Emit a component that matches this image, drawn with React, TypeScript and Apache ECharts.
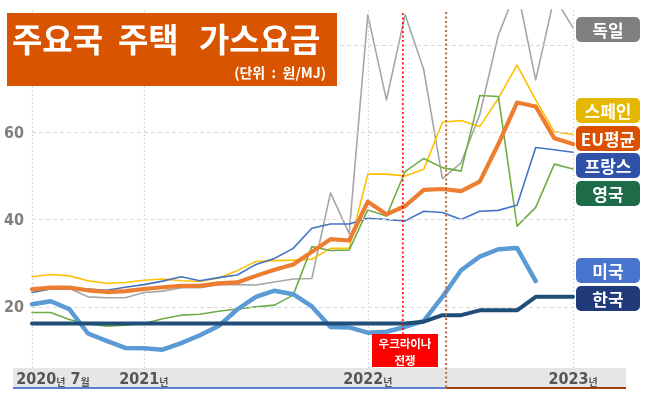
import React, { useEffect, useRef } from 'react';
import * as echarts from 'echarts';

// Monthly categories: 2020.07 .. 2022.12 (index 0..29)
const months: string[] = [
  '2020.07', '2020.08', '2020.09', '2020.10', '2020.11', '2020.12',
  '2021.01', '2021.02', '2021.03', '2021.04', '2021.05', '2021.06',
  '2021.07', '2021.08', '2021.09', '2021.10', '2021.11', '2021.12',
  '2022.01', '2022.02', '2022.03', '2022.04', '2022.05', '2022.06',
  '2022.07', '2022.08', '2022.09', '2022.10', '2022.11', '2022.12',
];
const xTickIdx = [0, 6, 18, 29];
const xTickYear = ['2020', '2021', '2022', '2023'];
const yGridTicks = [20, 40, 60, 80];
const yLabelTicks = [20, 40, 60];

const germany = [23.8, 24.2, 24.2, 22.3, 22.1, 22.1, 23.3, 23.6, 24.4, 24.4, 25.1, 25.1, 25.0, 25.7, 26.4, 26.5, 46.1, 36.8, 86.9, 67.4, 86.9, 74.3, 49.4, 53.0, 64.0, 82.3, 93.0, 72.0, 91.0, 83.9];
const spain = [26.9, 27.4, 27.1, 26.0, 25.4, 25.6, 26.1, 26.4, 26.0, 25.8, 26.6, 28.3, 30.4, 30.6, 30.7, 30.9, 33.4, 33.4, 50.4, 50.4, 50.0, 51.5, 62.3, 62.7, 61.3, 67.8, 75.4, 67.4, 60.1, 59.5];
const euAvg = [24.0, 24.4, 24.4, 23.8, 23.4, 23.6, 24.1, 24.5, 24.8, 24.8, 25.4, 25.6, 27.1, 28.5, 29.7, 32.6, 35.5, 35.2, 44.1, 41.2, 43.1, 46.8, 47.0, 46.5, 48.7, 57.3, 66.8, 65.9, 58.6, 57.3];
const france = [23.3, 24.1, 24.1, 24.1, 23.8, 24.5, 25.1, 25.9, 26.9, 26.0, 26.7, 27.3, 29.7, 31.1, 33.4, 38.0, 39.0, 39.0, 40.3, 40.0, 39.7, 41.9, 41.6, 40.0, 41.9, 42.1, 43.3, 56.5, 56.0, 55.4];
const uk = [18.7, 18.7, 17.1, 16.1, 15.6, 15.8, 16.2, 17.3, 18.1, 18.3, 19.0, 19.5, 20.0, 20.4, 22.7, 33.8, 32.9, 33.0, 42.2, 40.8, 51.0, 54.0, 51.9, 51.1, 68.4, 68.2, 38.5, 42.8, 52.7, 51.6];
const usa = [20.6, 21.3, 19.5, 13.9, 12.2, 10.6, 10.5, 10.2, 11.7, 13.5, 15.6, 19.4, 22.3, 23.7, 22.9, 20.1, 15.4, 15.3, 14.1, 14.3, 15.4, 16.8, 22.3, 28.4, 31.5, 33.2, 33.5, 25.9];
const korea = [16.2, 16.2, 16.2, 16.2, 16.2, 16.2, 16.2, 16.2, 16.2, 16.2, 16.2, 16.2, 16.2, 16.2, 16.2, 16.2, 16.2, 16.2, 16.2, 16.2, 16.2, 16.6, 18.1, 18.1, 19.2, 19.2, 19.2, 22.3, 22.3, 22.3];

// Event markers (fractional month index)
const warIdx = 19.88;
const splitIdx = 22.2;

const legendItems = [
  { name: '독일', color: '#7f7f7f', y: 17 },
  { name: '스페인', color: '#e5b700', y: 98 },
  { name: 'EU평균', color: '#d95000', y: 126 },
  { name: '프랑스', color: '#2f52a8', y: 153 },
  { name: '영국', color: '#1e6b4a', y: 181 },
  { name: '미국', color: '#4a75cf', y: 258 },
  { name: '한국', color: '#203a7a', y: 286 },
];

const CJK = "'Noto Sans CJK KR', sans-serif";
const COND = "'Liberation Sans Narrow', 'DejaVu Sans Condensed', 'Noto Sans CJK KR', sans-serif";

const Y_MIN = 6;
const Y_MAX = 88;

function pairs(arr: number[]) {
  return arr.map((v, i) => [i, v]);
}

export default function App() {
  const ref = useRef<HTMLDivElement>(null);
  useEffect(() => {
    const chart = echarts.init(ref.current!, null, { renderer: 'svg' });

    const gridMark = {
      silent: true,
      symbol: ['none', 'none'],
      label: { show: false },
      data: [
        ...yGridTicks.map((v) => [
          { coord: [0, v], lineStyle: { color: '#d9d9d9', type: [4, 3], width: 1 } },
          { coord: [months.length - 1, v] },
        ]),
        ...xTickIdx.map((i) => [
          { coord: [i, Y_MIN], lineStyle: { color: '#d0d0d0', type: [1.5, 2.5], width: 1.2 } },
          { coord: [i, Y_MAX] },
        ]),
      ],
    };

    const mk = (name: string, data: number[], color: string, width: number, z: number) => ({
      name,
      type: 'line',
      data: pairs(data),
      symbol: 'none',
      z,
      lineStyle: { color, width, join: 'round', cap: 'round' },
      itemStyle: { color },
    });

    chart.setOption({
      animation: false,
      grid: { left: 32, right: 88, top: 10, bottom: 30, containLabel: false, outerBoundsMode: 'none' },
      xAxis: {
        type: 'value',
        min: 0,
        max: months.length - 1,
        axisLine: { show: false },
        axisTick: { show: false },
        splitLine: { show: false },
        axisLabel: {
          customValues: xTickIdx,
          showMinLabel: true,
          showMaxLabel: true,
          hideOverlap: false,
          margin: 1,
          formatter: (v: number) => {
            const k = xTickIdx.indexOf(Math.round(v));
            if (k < 0) return '';
            if (k === 0) return `{n0|${xTickYear[0]}}{s|년}{n| 7}{s|월}`;
            return `{n|${xTickYear[k]}}{s|년}`;
          },
          rich: {
            n0: { fontFamily: COND, fontSize: 16, fontWeight: 'bold', color: '#555555', lineHeight: 18, padding: [0, 0, 0, 42] },
            n: { fontFamily: COND, fontSize: 16, fontWeight: 'bold', color: '#555555', lineHeight: 18 },
            s: { fontFamily: CJK, fontSize: 10, fontWeight: 'bold', color: '#555555', lineHeight: 18, verticalAlign: 'bottom', padding: [0, 0, 1, 0] },
          },
        },
      },
      yAxis: {
        type: 'value',
        min: Y_MIN,
        max: Y_MAX,
        axisLine: { show: false },
        axisTick: { show: false },
        splitLine: { show: false },
        axisLabel: {
          customValues: yLabelTicks,
          margin: 8,
          color: '#7f7f7f',
          fontSize: 16,
          fontWeight: 'bold',
          fontFamily: COND,
        },
      },
      series: [
        { type: 'line', data: [], markLine: gridMark, z: 1 },
        mk('독일', germany, '#a6a6a6', 1.6, 2),
        mk('스페인', spain, '#ffc000', 1.6, 3),
        mk('영국', uk, '#70ad47', 1.6, 3),
        mk('프랑스', france, '#4472c4', 1.6, 4),
        mk('EU평균', euAvg, '#ed7d31', 4.2, 5),
        mk('미국', usa, '#5b9bd5', 4.5, 6),
        mk('한국', korea, '#1f4e79', 4, 7),
      ],
    });

    const px = (x: number, y: number) => chart.convertToPixel({ gridIndex: 0 } as any, [x, y]) as number[];
    const warTop = px(warIdx, Y_MAX);
    const splitTop = px(splitIdx, Y_MAX);
    const bandTop = px(0, Y_MIN)[1];

    const graphic: any[] = [
      // x-axis band
      { type: 'rect', z: -10, shape: { x: 13, y: bandTop, width: 613, height: 19 }, style: { fill: '#e7e6e6' } },
      { type: 'rect', z: 50, shape: { x: 13, y: bandTop + 19, width: splitTop[0] - 13, height: 2 }, style: { fill: '#5b80d2' } },
      { type: 'rect', z: 50, shape: { x: splitTop[0], y: bandTop + 19, width: 626 - splitTop[0], height: 2 }, style: { fill: '#a0400c' } },
      // event lines
      { type: 'line', z: 40, shape: { x1: warTop[0], y1: warTop[1] + 3, x2: warTop[0], y2: 334 }, style: { stroke: '#ff0000', lineWidth: 1.6, lineDash: [2, 2.5] } },
      { type: 'line', z: 40, shape: { x1: splitTop[0], y1: splitTop[1] + 2, x2: splitTop[0], y2: bandTop + 19 }, style: { stroke: '#b8683c', lineWidth: 2, lineDash: [2, 2.5] } },
      // war annotation
      { type: 'rect', z: 60, shape: { x: 372, y: 334, width: 66, height: 33 }, style: { fill: '#ff0000' } },
      { type: 'text', z: 61, x: 405, y: 342.5, style: { text: '우크라이나', fill: '#ffffff', font: `bold 11.5px ${CJK}`, align: 'center', verticalAlign: 'middle' } },
      { type: 'text', z: 61, x: 405, y: 359.5, style: { text: '전쟁', fill: '#ffffff', font: `bold 11.5px ${CJK}`, align: 'center', verticalAlign: 'middle' } },
      // title
      { type: 'rect', z: 100, shape: { x: 7, y: 13, width: 330, height: 73 }, style: { fill: '#d85400' } },
      { type: 'text', z: 101, x: 12, y: 38, style: { text: '주요국', fill: '#ffffff', font: `bold 33px ${CJK}`, align: 'left', verticalAlign: 'middle' } },
      { type: 'text', z: 101, x: 118, y: 38, style: { text: '주택', fill: '#ffffff', font: `bold 33px ${CJK}`, align: 'left', verticalAlign: 'middle' } },
      { type: 'text', z: 101, x: 199, y: 38, style: { text: '가스요금', fill: '#ffffff', font: `bold 33px ${CJK}`, align: 'left', verticalAlign: 'middle' } },
      { type: 'text', z: 101, x: 326, y: 72, style: { text: '(단위  :  원/MJ)', fill: '#ffffff', font: `bold 14px ${CJK}`, align: 'right', verticalAlign: 'middle' } },
    ];
    legendItems.forEach((it) => {
      graphic.push({ type: 'rect', z: 80, shape: { x: 576, y: it.y, width: 64, height: 25, r: 5 }, style: { fill: it.color } });
      graphic.push({ type: 'text', z: 81, x: 608, y: it.y + 12.5, style: { text: it.name, fill: '#ffffff', font: `bold 17px ${CJK}`, align: 'center', verticalAlign: 'middle' } });
    });
    chart.setOption({ graphic });

    return () => chart.dispose();
  }, []);
  return <div ref={ref} style={{ position: 'fixed', left: 0, top: 0, width: 661, height: 398 }} />;
}
